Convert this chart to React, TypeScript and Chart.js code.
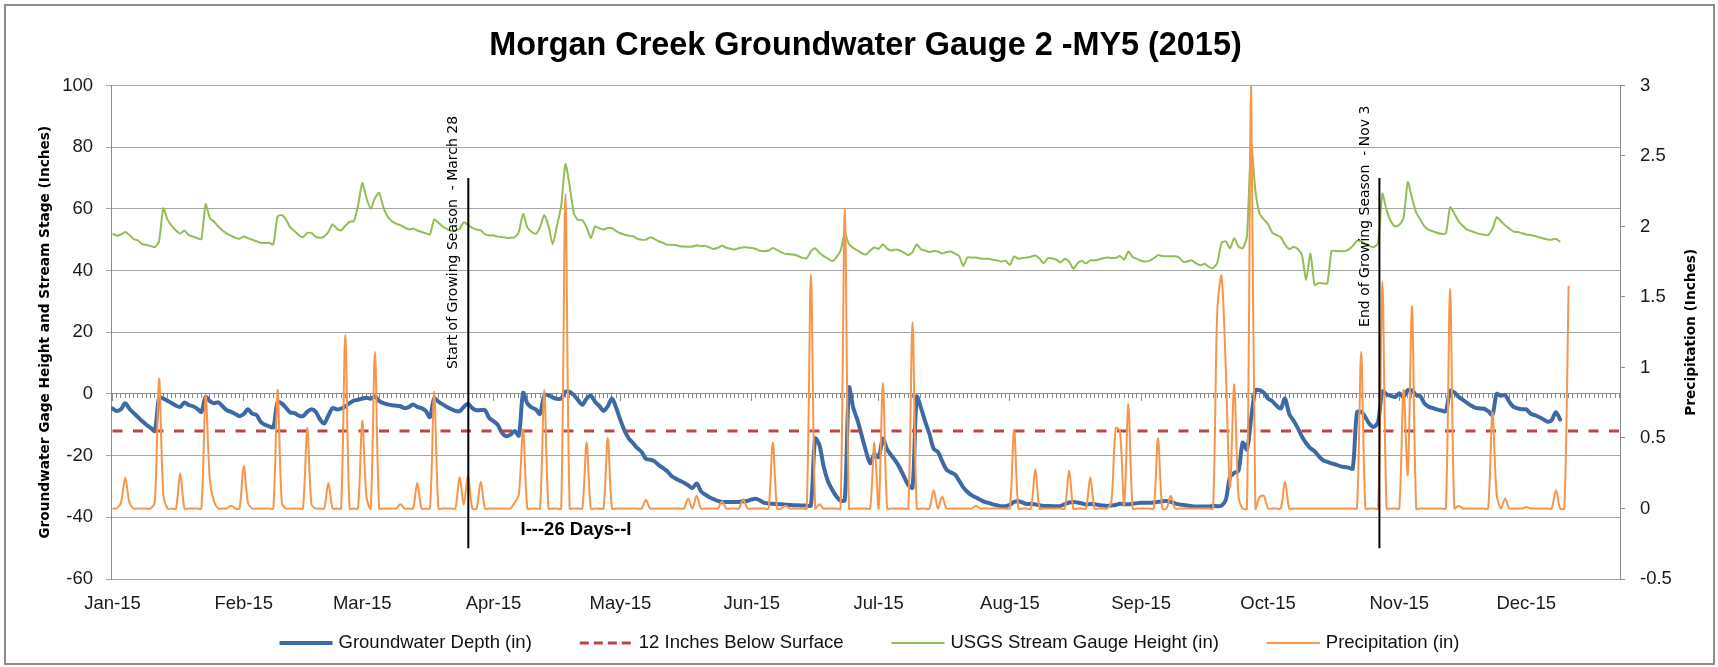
import React, { useEffect, useRef } from 'react';
import { Chart, registerables } from 'chart.js';

Chart.register(...registerables);

// ---------- text ----------
const chartTitle = 'Morgan Creek Groundwater Gauge 2 -MY5 (2015)';
const leftAxisTitle = 'Groundwater Gage Height and Stream Stage (Inches)';
const rightAxisTitle = 'Precipitation (Inches)';
const seriesNames = [
  'Groundwater Depth (in)',
  '12 Inches Below Surface',
  'USGS Stream Gauge Height (in)',
  'Precipitation (in)',
];
const seasonLabels = ['Start of Growing Season  - March 28', 'End of Growing Season  - Nov 3'];
const daysNote = 'I---26 Days--I';

// ---------- axis ticks (day 0 = Jan 1, 2015) ----------
const monthLabels = ['Jan-15', 'Feb-15', 'Mar-15', 'Apr-15', 'May-15', 'Jun-15', 'Jul-15', 'Aug-15', 'Sep-15', 'Oct-15', 'Nov-15', 'Dec-15'];
const monthStartDays = [0, 31, 59, 90, 120, 151, 181, 212, 243, 273, 304, 334];
const dayTickCount = 357;

// ---------- data (daily, day 0 = Jan 1) ----------
const groundwaterDepth = [
  -4.7, -5.5, -5, -3, -4.8, -6.2, -7.5, -8.8, -10, -11,
  -12, -1.2, -1.5, -2.2, -3, -3.8, -4.2, -2.8, -3.6, -4,
  -4.8, -5.8, -1, -2.3, -3, -2.7, -4, -5.3, -5.8, -6.5,
  -7.2, -6.5, -5, -6.4, -6.8, -9, -10, -10.5, -10.8, -2.6,
  -3.1, -4.5, -6, -6.2, -7, -7.2, -5.8, -5, -5.8, -8.2,
  -9.6, -7, -4.6, -5, -4.8, -4, -3, -2.2, -1.9, -1.5,
  -1.2, -1.6, -0.8, -2.3, -3, -3.4, -3.7, -3.8, -4, -4.6,
  -4.3, -3.4, -4.2, -4.6, -5.5, -7.5, -1.5, -2.5, -3.4, -4.2,
  -4.9, -5.5, -5.6, -4.2, -3.2, -4.6, -5.3, -5.2, -5.3, -7.8,
  -8.8, -10, -12.6, -13.7, -13.2, -12, -13.5, 0.3, -3, -4.4,
  -5, -6.5, -0.5, -0.4, -1.1, -1.6, -1.5, 0.7, 0.7, -0.4,
  -2, -3.5, -1.5, -0.5, -2.5, -3.9, -5.5, -4, -1.5, -4.5,
  -8.5, -12, -14.5, -16, -17.6, -18.8, -21, -21.3, -21.8, -23,
  -24, -25, -26.5, -27.4, -28.1, -28.8, -29.6, -30.5, -29, -31.5,
  -32.6, -33.5, -34.1, -34.7, -35, -35, -35, -35, -35, -34.8,
  -34.7, -34.2, -34, -34.6, -35.3, -35.5, -35.6, -35.7, -35.8, -35.9,
  -36, -36.1, -36.1, -36.2, -36.2, -36.2, -14.5, -16.5, -23.5, -28.2,
  -31, -33.2, -34.6, -34.4, 2, -4.5, -8.5, -13.5, -18.5, -22.5,
  -19.5, -20.5, -14.5, -18, -19.9, -21.7, -24, -26.8, -29.5, -30.4,
  -1, -4.5, -9, -13, -17.8, -18.8, -21.8, -24.5, -25.4, -26.1,
  -28.1, -30.3, -31.8, -32.9, -33.6, -34.3, -35, -35.3, -35.8, -36.1,
  -36.4, -36.4, -35.9, -35, -34.8, -35.2, -35.7, -35.6, -35.8, -36.1,
  -36.3, -36.3, -36.4, -36.4, -36.3, -35.7, -35.2, -35, -35.2, -35.5,
  -35.9, -35.7, -35.8, -36, -36.2, -36.3, -36.2, -36, -35.6, -35.7,
  -35.8, -35.6, -35.4, -35.3, -35.3, -35.3, -35.2, -35, -34.8, -34.7,
  -35, -35.5, -35.8, -36, -36.2, -36.4, -36.5, -36.5, -36.5, -36.5,
  -36.3, -36.4, -36.2, -34.4, -27, -25.6, -25, -15.8, -18, -8,
  1.2, 1.2, 0.4, -1.5, -2.4, -3.8, -4.7, -1.5, -6.5, -8.6,
  -11, -13.8, -16, -17.6, -18.6, -20.2, -21.5, -22, -22.5, -22.9,
  -23.4, -23.7, -23.9, -24.2, -6, -5.8, -7.6, -9.8, -10.7, -9,
  0.8, -0.1, -0.6, -1, 0.2, -1, 1.2, 1.1, -0.4, -0.8,
  -3.2, -4.2, -4.6, -5.1, -5.4, -5.6, 1, 0.5, -0.9, -1.9,
  -2.9, -3.8, -4.5, -4.7, -4.8, -5.6, -6.8, 0, -0.6, -0.4,
  -2.6, -4.2, -4.7, -5, -5, -6.4, -6.9, -7.5, -8.2, -9,
  -8.5, -5.9, -8.3,
];

const streamGaugeHeight = [
  52, 51.3, 51.7, 52.5, 51.5, 50.2, 49.8, 48.6, 48.3, 48,
  47.6, 49.5, 60.2, 56.5, 54.5, 53, 52, 53, 51.5, 51,
  50.5, 50.2, 61.5, 57, 55.8, 54.3, 53, 52, 51.3, 50.6,
  50.3, 51, 50.5, 50, 49.5, 49, 48.9, 49, 48.5, 57.5,
  58, 56.5, 54, 52.8, 51.5, 50.8, 52.2, 52.2, 51, 50.6,
  51, 52.5, 55, 53.6, 53, 54.5, 55.8, 56, 61, 68.4,
  63.5, 60, 63.5, 65.2, 60.5, 57.5, 56, 55.2, 54.7, 54,
  53.3, 53.6, 53, 52.5, 52.1, 51.7, 56.5, 55.5, 54.3, 53.5,
  52.8, 53, 53.5, 55.7, 54.8, 53.8, 53.3, 53, 51.8, 51.4,
  51.4, 51, 50.9, 50.6, 50.6, 50.8, 52.5, 58.4, 54, 52.6,
  51.9, 54, 58, 54.5, 48.5, 54.5, 61, 74.5, 67.5, 58.5,
  56.4, 56.3, 54, 50.5, 54.3, 53.7, 53.3, 53.8, 53.7, 52.8,
  52.1, 51.6, 51.3, 51.1, 50.3, 50, 50, 50.8, 50.3, 49.5,
  49, 48.4, 48.4, 48.3, 47.9, 47.8, 47.7, 47.8, 48.2, 47.9,
  48, 47.5, 47, 47.4, 48, 47.4, 47.1, 46.8, 47.3, 47.5,
  47.5, 47.3, 47, 46.4, 46.3, 46.5, 47.3, 46.7, 45.9, 45.4,
  45.3, 45.1, 44.7, 44.1, 44, 46.2, 47.2, 45.7, 44.7, 43.9,
  43.1, 44.3, 46.5, 52, 48.5, 47.3, 46.5, 45.6, 45.2, 46.5,
  47.5, 47, 48.5, 47.1, 46.5, 46.8, 46.5, 45.8, 45, 46,
  48.5, 46.9, 46.5, 46, 46.3, 46.2, 45.5, 46, 46.2, 45.5,
  44.7, 41.5, 44.3, 44.2, 44.2, 43.9, 43.8, 43.8, 43.5, 43.3,
  42.9, 43.2, 41.8, 44.6, 43.8, 44.1, 44.2, 44.5, 44.9, 43.9,
  42.4, 44, 43.9, 43.5, 42.6, 43.8, 42.9, 40.6, 42.4, 43.1,
  42.3, 43.3, 43.3, 43.6, 44, 44.2, 44.1, 44.1, 44.7, 43.5,
  46.2, 44.4, 43.8, 43.2, 42.9, 43.2, 44, 45, 44.7, 44.6,
  44.6, 44.6, 44.2, 42.8, 43, 43.3, 42.3, 41.7, 42.2, 41.2,
  40.8, 42.5, 49, 49.5, 47.2, 50.5, 47.8, 47.2, 51, 81,
  66, 58.4, 56.6, 55, 52.3, 51.5, 50.8, 48.5, 47, 47.6,
  47, 45, 37, 45.5, 35.3, 36, 35.8, 35.8, 46.4, 46.3,
  46.3, 46.3, 46.8, 48, 49.6, 49.5, 48.6, 47.9, 47.6, 49,
  64.9, 59.5, 56, 54.3, 54.8, 57, 68.7, 63.5, 58.8, 56.5,
  54.2, 53.2, 52.7, 52.2, 51.9, 52, 60.5, 58.5, 56, 54.5,
  53.3, 52.8, 52.3, 51.9, 51.6, 51.5, 53.5, 57.3, 56, 54.7,
  53.6, 52.6, 52.5, 52.1, 51.7, 51.5, 51.2, 50.8, 50.4, 50.1,
  50, 50.3, 49.3,
];

const precipitation = [
  0, 0, 0.04, 0.22, 0.04, 0, 0, 0, 0, 0,
  0.05, 0.92, 0.1, 0, 0, 0, 0.25, 0, 0, 0,
  0, 0, 0.8, 0.2, 0.05, 0, 0, 0, 0.02, 0,
  0, 0.3, 0.04, 0, 0, 0, 0, 0, 0, 0.84,
  0.04, 0, 0, 0, 0, 0, 0.57, 0.03, 0, 0,
  0, 0.18, 0, 0, 0, 1.23, 0, 0, 0, 0.62,
  0.08, 0, 1.11, 0, 0, 0, 0, 0, 0.03, 0,
  0, 0, 0.18, 0, 0, 0, 0.83, 0, 0, 0,
  0, 0, 0.22, 0.03, 0.23, 0, 0, 0.19, 0, 0,
  0, 0, 0, 0, 0, 0.04, 0.1, 0.56, 0, 0,
  0, 0, 0.84, 0, 0, 0, 0, 2.23, 0, 0,
  0, 0, 0.47, 0, 0, 0, 0, 0.5, 0, 0,
  0, 0, 0, 0, 0, 0, 0.06, 0, 0, 0,
  0, 0, 0, 0, 0, 0, 0.07, 0, 0.09, 0,
  0, 0, 0, 0, 0.05, 0, 0, 0, 0, 0.065,
  0, 0, 0, 0, 0, 0, 0.47, 0, 0, 0.02,
  0, 0, 0, 0, 0, 1.66, 0, 0.03, 0, 0,
  0, 0, 0, 2.13, 0, 0, 0, 0, 0, 0,
  0.47, 0, 0.89, 0, 0, 0, 0, 0, 0, 1.32,
  0, 0, 0, 0, 0.13, 0, 0.085, 0, 0, 0,
  0, 0, 0, 0, 0.02, 0, 0, 0, 0, 0,
  0, 0, 0, 0.56, 0, 0, 0, 0, 0.28, 0,
  0, 0, 0, 0, 0, 0, 0.27, 0, 0, 0,
  0, 0.22, 0, 0, 0, 0, 0.05, 0.57, 0.55, 0.02,
  0.74, 0, 0, 0, 0, 0, 0, 0.5, 0, 0,
  0.09, 0, 0, 0, 0, 0, 0, 0, 0, 0,
  0, 1.4, 1.65, 1.0, 0.15, 0.88, 0.09, 0, 0, 3.0,
  0, 0.08, 0.09, 0, 0, 0, 0, 0.19, 0, 0,
  0, 0, 0, 0, 0, 0, 0, 0, 0, 0,
  0, 0, 0, 0, 0, 1.11, 0, 0, 0, 0,
  1.61, 0, 0, 0, 0, 0.84, 0.24, 1.43, 0, 0,
  0, 0, 0, 0, 0, 0, 1.56, 0, 0.02, 0,
  0, 0, 0, 0, 0, 0, 0.68, 0.1, 0, 0.07,
  0, 0, 0, 0, 0.01, 0, 0, 0, 0, 0,
  0, 0.13, 0, 0, 1.58,
];

const thresholdDays = [0, 356];
const thresholdDepth = [-12, -12];

const seasonMarkerDays = [84.06, 299.3];
const seasonMarkerSpan = [-50, 70];
const seasonLabelCenters = [49.1, 57.6];
const daysNoteAt = [109.5, -44.1];

// ---------- styling ----------
const SANS = "'Liberation Sans', Arial, sans-serif";
const WIDE = "'DejaVu Sans', Verdana, sans-serif";
const X_MIN = -0.354;
const X_MAX = 356.14;

const toPoints = (values: number[], days?: number[]) =>
  values.map((v, i) => ({ x: days ? days[i] : i, y: v }));

const overlayPlugin = {
  id: 'overlay',
  afterDatasetsDraw(chart: any) {
    const { ctx, chartArea, scales } = chart;
    const x = scales.x;
    const y = scales.y;
    ctx.save();
    ctx.fillStyle = '#000';

    // rotated season labels
    ctx.font = `14px ${WIDE}`;
    const gaps = [11, 10];
    seasonLabels.forEach((text, i) => {
      const px = x.getPixelForValue(seasonMarkerDays[i]) - gaps[i];
      const py = y.getPixelForValue(seasonLabelCenters[i]);
      ctx.save();
      ctx.translate(px, py);
      ctx.rotate(-Math.PI / 2);
      ctx.textAlign = 'center';
      ctx.textBaseline = 'alphabetic';
      ctx.fillText(text, 0, 0);
      ctx.restore();
    });

    // 26 days note
    ctx.font = `bold 18.5px ${SANS}`;
    ctx.textAlign = 'center';
    ctx.textBaseline = 'middle';
    ctx.fillText(daysNote, x.getPixelForValue(daysNoteAt[0]), y.getPixelForValue(daysNoteAt[1]));

    // right axis title (reads bottom to top)
    ctx.font = `bold 13.7px ${WIDE}`;
    ctx.save();
    ctx.translate(chartArea.right + 71, (chartArea.top + chartArea.bottom) / 2);
    ctx.rotate(-Math.PI / 2);
    ctx.textAlign = 'center';
    ctx.textBaseline = 'middle';
    ctx.fillText(rightAxisTitle, 0, 0);
    ctx.restore();

    ctx.restore();
  },
  afterDraw(chart: any) {
    const { ctx, chartArea } = chart;
    const items = chart.data.datasets.slice(0, 4);
    ctx.save();
    ctx.font = `18.5px ${SANS}`;
    const sampleW = 53;
    const textGap = 6;
    const itemGap = 48;
    const widths = items.map((d: any) => sampleW + textGap + ctx.measureText(d.label).width);
    const total = widths.reduce((a: number, b: number) => a + b, 0) + itemGap * (items.length - 1);
    let cx = (chartArea.left + chartArea.right) / 2 + 4 - total / 2;
    const cy = chart.height - 24;
    items.forEach((d: any, i: number) => {
      ctx.save();
      ctx.strokeStyle = d.borderColor;
      ctx.lineWidth = d.borderWidth;
      ctx.setLineDash(d.legendDash || []);
      ctx.beginPath();
      ctx.moveTo(cx, cy);
      ctx.lineTo(cx + sampleW, cy);
      ctx.stroke();
      ctx.restore();
      ctx.fillStyle = '#111';
      ctx.textAlign = 'left';
      ctx.textBaseline = 'middle';
      ctx.fillText(d.label, cx + sampleW + textGap, cy);
      cx += widths[i] + itemGap;
    });
    ctx.restore();
  },
};

export default function App() {
  const canvasRef = useRef<HTMLCanvasElement | null>(null);

  useEffect(() => {
    if (!canvasRef.current) return;
    const gray = '#8c8c8c';
    const chart = new Chart(canvasRef.current, {
      type: 'line',
      data: {
        datasets: [
          {
            label: seriesNames[0],
            data: toPoints(groundwaterDepth),
            yAxisID: 'y',
            borderColor: '#3d6aa6',
            borderWidth: 4,
            pointRadius: 0,
            tension: 0.3,
            borderJoinStyle: 'round',
            borderCapStyle: 'round',
            order: 3,
          },
          {
            label: seriesNames[1],
            data: toPoints(thresholdDepth, thresholdDays),
            yAxisID: 'y',
            borderColor: '#b94642',
            borderWidth: 3,
            borderDash: [10, 10.5],
            legendDash: [9, 5],
            pointRadius: 0,
            order: 2,
          } as any,
          {
            label: seriesNames[2],
            data: toPoints(streamGaugeHeight),
            yAxisID: 'y',
            borderColor: '#93bd55',
            borderWidth: 2,
            pointRadius: 0,
            tension: 0.2,
            order: 4,
          },
          {
            label: seriesNames[3],
            data: toPoints(precipitation),
            yAxisID: 'y1',
            borderColor: '#f7964a',
            borderWidth: 2,
            pointRadius: 0,
            tension: 0.3,
            order: 1,
          },
          {
            label: 'start',
            data: toPoints(seasonMarkerSpan, [seasonMarkerDays[0], seasonMarkerDays[0]]),
            yAxisID: 'y',
            borderColor: '#000',
            borderWidth: 2,
            pointRadius: 0,
            order: 0,
          },
          {
            label: 'end',
            data: toPoints(seasonMarkerSpan, [seasonMarkerDays[1], seasonMarkerDays[1]]),
            yAxisID: 'y',
            borderColor: '#000',
            borderWidth: 2,
            pointRadius: 0,
            order: 0,
          },
        ],
      },
      options: {
        animation: false,
        responsive: false,
        devicePixelRatio: 1,
        events: [],
        layout: { padding: { left: 0, right: 0, top: 0, bottom: 43 } },
        plugins: {
          legend: { display: false },
          tooltip: { enabled: false },
          title: {
            display: true,
            fullSize: false,
            text: chartTitle,
            color: '#000',
            font: { family: SANS, size: 32.4, weight: 'bold' },
            padding: { top: 26.4, bottom: 20.2 },
          },
        },
        scales: {
          x: {
            type: 'linear',
            axis: 'x',
            position: 'bottom',
            min: X_MIN,
            max: X_MAX,
            afterBuildTicks: (s: any) => {
              s.ticks = monthStartDays.map((v) => ({ value: v }));
            },
            afterFit: (s: any) => {
              s.height = 45;
            },
            ticks: {
              autoSkip: false,
              maxRotation: 0,
              padding: 14,
              color: '#1a1a1a',
              font: { family: SANS, size: 18.5 },
              callback: (_v: any, i: number) => monthLabels[i],
            },
            grid: { display: false, drawTicks: false },
            border: { display: false },
          },
          xDays: {
            type: 'linear',
            axis: 'x',
            position: { y: 0 },
            min: X_MIN,
            max: X_MAX,
            afterBuildTicks: (s: any) => {
              s.ticks = Array.from({ length: dayTickCount }, (_, i) => ({ value: i }));
            },
            ticks: { display: false },
            grid: { display: true, drawOnChartArea: false, drawTicks: true, tickLength: 4, color: gray, lineWidth: 1 },
            border: { display: true, color: gray, width: 1 },
          },
          xMonths: {
            type: 'linear',
            axis: 'x',
            position: { y: 0 },
            min: X_MIN,
            max: X_MAX,
            afterBuildTicks: (s: any) => {
              s.ticks = monthStartDays.map((v) => ({ value: v }));
            },
            ticks: { display: false },
            grid: { display: true, drawOnChartArea: false, drawTicks: true, tickLength: 7, color: gray, lineWidth: 1 },
            border: { display: false },
          },
          y: {
            type: 'linear',
            position: 'left',
            min: -60,
            max: 100,
            afterFit: (s: any) => {
              s.width = 111;
            },
            ticks: {
              stepSize: 20,
              padding: 13,
              color: '#1a1a1a',
              font: { family: SANS, size: 18.5 },
            },
            grid: { color: '#a6a6a6', lineWidth: 1, tickLength: 5, drawTicks: true },
            border: { display: true, color: gray, width: 1 },
            title: {
              display: true,
              text: leftAxisTitle,
              color: '#000',
              font: { family: WIDE, size: 13.7, weight: 'bold' },
              padding: { top: 37, bottom: 0 },
            },
          },
          y1: {
            type: 'linear',
            position: 'right',
            min: -0.5,
            max: 3,
            afterFit: (s: any) => {
              s.width = 98;
            },
            ticks: {
              stepSize: 0.5,
              padding: 15,
              color: '#1a1a1a',
              font: { family: SANS, size: 18.5 },
              callback: (v: any) => String(Math.round(Number(v) * 10) / 10),
            },
            grid: { drawOnChartArea: false, color: gray, tickLength: 5, drawTicks: true },
            border: { display: true, color: gray, width: 1 },
          },
        },
      } as any,
      plugins: [overlayPlugin],
    });
    return () => chart.destroy();
  }, []);

  return (
    <div style={{ position: 'fixed', left: 0, top: 0, width: 1718, height: 667, background: '#fff' }}>
      <canvas ref={canvasRef} width={1718} height={667} style={{ display: 'block', width: 1718, height: 667 }} />
      <div
        style={{
          position: 'absolute',
          left: 4,
          top: 4,
          width: 1711,
          height: 661,
          boxSizing: 'border-box',
          border: '2px solid #8c8c8c',
          pointerEvents: 'none',
        }}
      />
    </div>
  );
}
